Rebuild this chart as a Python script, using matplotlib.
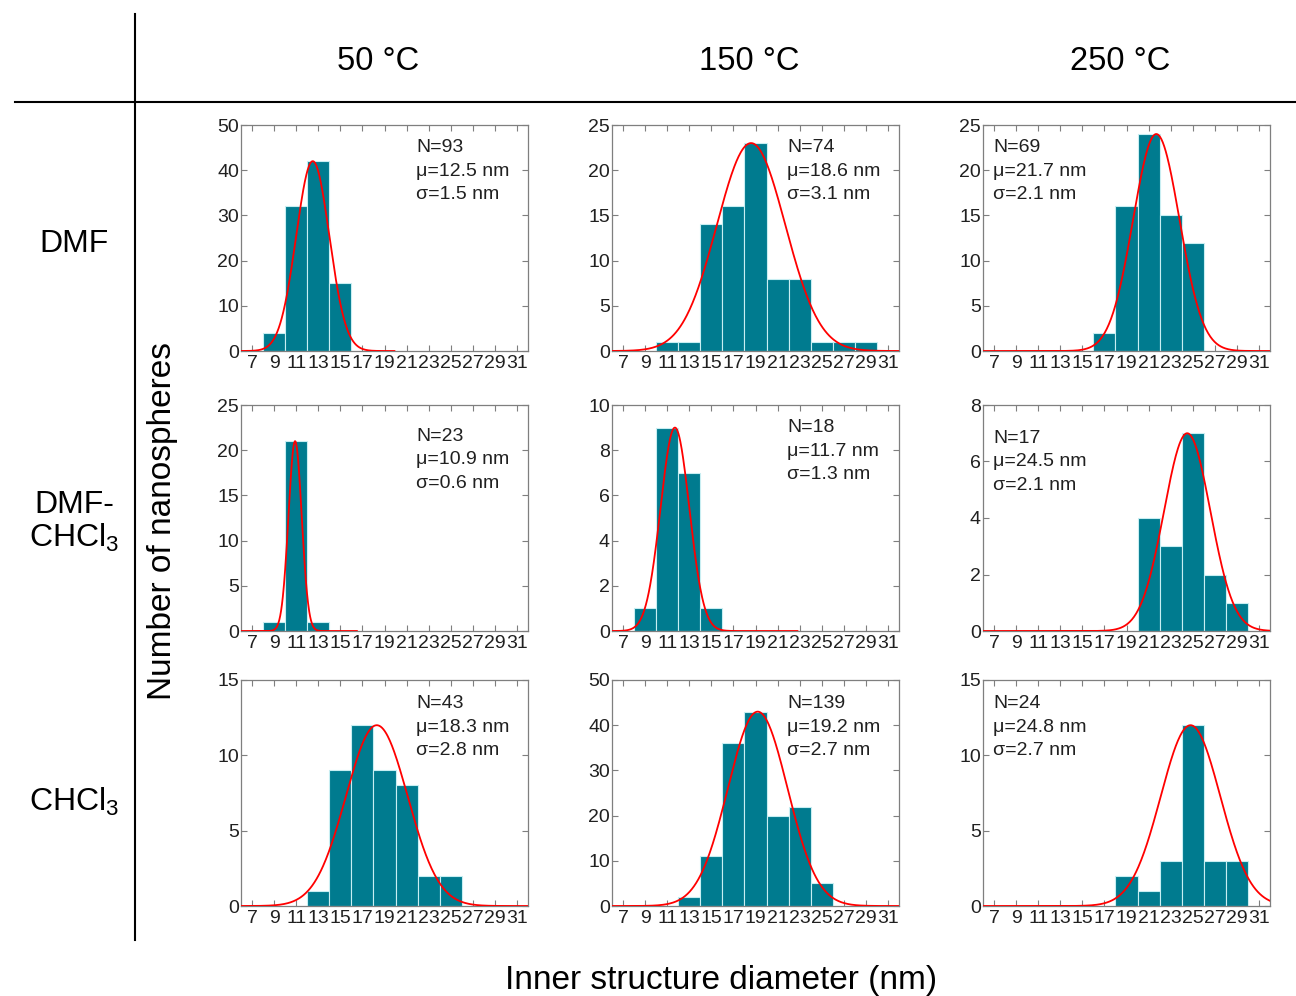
import numpy as np
import matplotlib
matplotlib.use('Agg')
import matplotlib.pyplot as plt
from matplotlib.lines import Line2D

plt.rcParams['font.family'] = ['Liberation Sans', 'DejaVu Sans']
plt.rcParams['mathtext.fontset'] = 'custom'
plt.rcParams['mathtext.rm'] = 'Liberation Sans'

# column / row headers
temps = ['50 °C', '150 °C', '250 °C']
solvents = ['DMF', 'DMF-\n$\\mathregular{CHCl_3}$', '$\\mathregular{CHCl_3}$']

# histogram bins (centre, nm) and counts, row-major: DMF, DMF-CHCl3, CHCl3
centers = [
    [9, 11, 13, 15],
    [11, 13, 15, 17, 19, 21, 23, 25, 27, 29],
    [17, 19, 21, 23, 25],
    [9, 11, 13],
    [9, 11, 13, 15],
    [21, 23, 25, 27, 29],
    [13, 15, 17, 19, 21, 23, 25],
    [13, 15, 17, 19, 21, 23, 25],
    [19, 21, 23, 25, 27, 29],
]
counts = [
    [4, 32, 42, 15],
    [1, 1, 14, 16, 23, 8, 8, 1, 1, 1],
    [2, 16, 24, 15, 12],
    [1, 21, 1],
    [1, 9, 7, 1],
    [4, 3, 7, 2, 1],
    [1, 9, 12, 9, 8, 2, 2],
    [2, 11, 36, 43, 20, 22, 5],
    [2, 1, 3, 12, 3, 3],
]

# fit parameters printed on each panel
n_vals = [93, 74, 69, 23, 18, 17, 43, 139, 24]
mu_vals = [12.5, 18.6, 21.7, 10.9, 11.7, 24.5, 18.3, 19.2, 24.8]
sigma_vals = [1.5, 3.1, 2.1, 0.6, 1.3, 2.1, 2.8, 2.7, 2.7]
fit_peak = [42, 23, 24, 21, 9, 7, 12, 43, 12]
fit_end = [19.9, 32, 32, 16.5, 22.8, 32, 32, 32, 32]

y_max = [50, 25, 25, 25, 10, 8, 15, 50, 15]
y_step = [10, 5, 5, 5, 2, 2, 5, 10, 5]
x_ticks = list(range(7, 32, 2))

W, H = 1296, 996
fig = plt.figure(figsize=(W / 100, H / 100), dpi=100)

col_left = [241, 612, 983]
ax_w = 287
row_top = [125, 405, 680]
ax_h = 226
text_top = [[21, 21, 21], [30, 21, 32], [22, 22, 22]]

bar_color = '#007b8f'
spine_color = '#7f7f7f'

for r in range(3):
    for c in range(3):
        i = r * 3 + c
        ax = fig.add_axes([col_left[c] / W, 1 - (row_top[r] + ax_h) / H, ax_w / W, ax_h / H])
        ax.bar(centers[i], counts[i], width=2, color=bar_color, edgecolor='#c8eef2', linewidth=0.8, zorder=2)
        xs = np.linspace(6, fit_end[i], 400)
        ax.plot(xs, fit_peak[i] * np.exp(-(xs - mu_vals[i]) ** 2 / (2 * sigma_vals[i] ** 2)),
                color='#ff0000', lw=1.3, zorder=3)
        ax.set_xlim(6, 32)
        ax.set_ylim(0, y_max[i])
        ax.set_xticks(x_ticks)
        ax.set_yticks(np.arange(0, y_max[i] + 0.1, y_step[i]))
        ax.tick_params(direction='in', length=4, width=0.8, color=spine_color,
                       labelsize=14, labelcolor='#202020', top=True, right=True)
        ax.tick_params(axis='x', pad=3)
        ax.tick_params(axis='y', pad=1.5)
        for s in ax.spines.values():
            s.set_color(spine_color)
            s.set_linewidth(0.9)
        label = 'N=%d\nμ=%.1f nm\nσ=%.1f nm' % (n_vals[i], mu_vals[i], sigma_vals[i])
        tx = 0.61 if c < 2 else 0.035
        ax.text(tx, 1 - (text_top[r][c] - 7) / ax_h, label, transform=ax.transAxes,
                ha='left', va='top', fontsize=14, color='#202020', linespacing=1.5)

# header table lines
fig.add_artist(Line2D([135 / W, 135 / W], [1 - 14 / H, 1 - 940 / H], color='black', lw=1.5))
fig.add_artist(Line2D([15 / W, 1], [1 - 102 / H, 1 - 102 / H], color='black', lw=1.5))

for c, t in enumerate(temps):
    fig.text((col_left[c] + ax_w / 2 - 6) / W, 1 - 62 / H, t, ha='center', va='center', fontsize=23.5)

row_y = [244, 522, 802]
for r, s in enumerate(solvents):
    fig.text(74 / W, 1 - row_y[r] / H, s, ha='center', va='center', fontsize=23,
             multialignment='center', linespacing=1.1)

fig.text(163 / W, 1 - 521 / H, 'Number of nanospheres', rotation=90, ha='center', va='center', fontsize=24)
fig.text(721 / W, 1 - 980 / H, 'Inner structure diameter (nm)', ha='center', va='center', fontsize=24)

fig.savefig('out.png', dpi=100)
